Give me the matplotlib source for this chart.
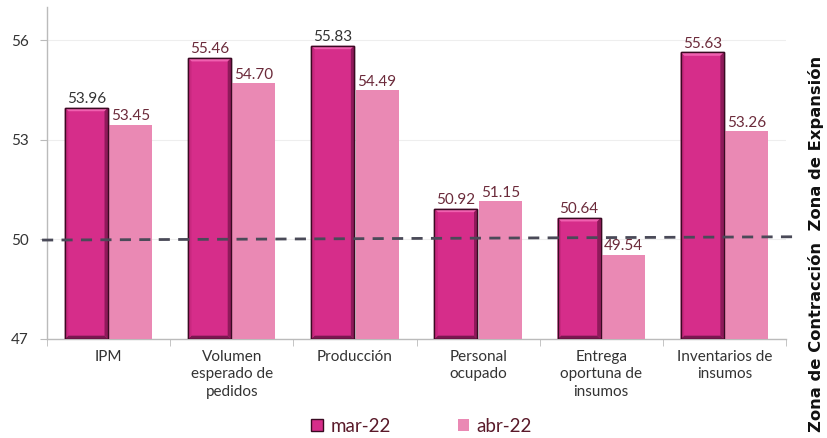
import matplotlib.pyplot as plt
import matplotlib.patches as mpatches
import numpy as np

categories = ["IPM", "Volumen\nesperado de\npedidos", "Producción", "Personal\nocupado",
              "Entrega\noportuna de\ninsumos", "Inventarios de\ninsumos"]
mar22 = [53.96, 55.46, 55.83, 50.92, 50.64, 55.63]
abr22 = [53.45, 54.70, 54.49, 51.15, 49.54, 53.26]
yticks = [47, 50, 53, 56]

plt.rcParams['font.family'] = ['Lato', 'DejaVu Sans']

c_mar = '#d62d8a'
c_mar_light = '#f060b0'
c_mar_dark = '#7a1850'
c_abr = '#ea89b4'
c_lab = '#6b2a3a'

x = np.arange(len(categories))
width = 0.35
off = 0.18

fig = plt.figure(figsize=(8.27, 4.38), dpi=100)
ax = fig.add_axes([47/827, 1-339/438, (786-47)/827, 332/438])

bars1 = ax.bar(x - off, np.array(mar22) - 47, width, bottom=47, color=c_mar,
               edgecolor='#3a0a22', linewidth=1.0, zorder=3)
bars2 = ax.bar(x + off, np.array(abr22) - 47, width, bottom=47, color=c_abr,
               linewidth=0, zorder=3)

# bevel effect on mar-22 bars
for b in bars1:
    x0, w = b.get_x(), b.get_width()
    y1 = b.get_y() + b.get_height()
    y0 = b.get_y()
    bw = w * 0.08
    bh = 0.10
    top = mpatches.Polygon([[x0, y1], [x0 + w, y1], [x0 + w - bw, y1 - bh], [x0 + bw, y1 - bh]],
                           closed=True, facecolor=c_mar_light, edgecolor='none', zorder=4)
    right = mpatches.Polygon([[x0 + w, y1], [x0 + w, y0], [x0 + w - bw, y0 + bh], [x0 + w - bw, y1 - bh]],
                             closed=True, facecolor='#8e1a5a', edgecolor='none', zorder=4)
    bottom = mpatches.Polygon([[x0, y0], [x0 + w, y0], [x0 + w - bw, y0 + bh], [x0 + bw, y0 + bh]],
                              closed=True, facecolor=c_mar_dark, edgecolor='none', zorder=4)
    left = mpatches.Polygon([[x0, y0], [x0, y1], [x0 + bw, y1 - bh], [x0 + bw, y0 + bh]],
                            closed=True, facecolor='#c8287f', edgecolor='none', zorder=4)
    for p in (top, right, bottom, left):
        ax.add_patch(p)
    ax.add_patch(mpatches.Rectangle((x0, y0), w, y1 - y0, facecolor='none',
                                    edgecolor='#3a0a22', linewidth=1.0, zorder=5))

mar_colors = ['#333333', c_lab, '#333333', c_lab, c_lab, c_lab]
for b, v, col in zip(bars1, mar22, mar_colors):
    ax.text(b.get_x() + b.get_width() / 2, v + 0.05, f'{v:.2f}', ha='center', va='bottom',
            fontsize=11, color=col, zorder=6)
for b, v in zip(bars2, abr22):
    ax.text(b.get_x() + b.get_width() / 2, v + 0.05, f'{v:.2f}', ha='center', va='bottom',
            fontsize=11, color=c_lab, zorder=6)

ax.set_xlim(-0.5, len(categories) - 0.5)
ax.set_ylim(47, 57)
ax.set_yticks(yticks)
ax.set_yticklabels([str(t) for t in yticks], fontsize=11, color='#333333')
ax.yaxis.grid(True, color='#eeeeee', linewidth=0.8, zorder=0)
ax.set_axisbelow(True)

ax.set_xticks(np.arange(len(categories) + 1) - 0.5, minor=True)
ax.set_xticks(x)
ax.set_xticklabels(categories, fontsize=11, color='#333333', linespacing=1.3)
ax.tick_params(axis='x', which='major', length=0, pad=8)
ax.tick_params(axis='x', which='minor', length=5, color='#bbbbbb')
ax.tick_params(axis='y', length=5, color='#bbbbbb', pad=8)

for s in ['top', 'right']:
    ax.spines[s].set_visible(False)
for s in ['left', 'bottom']:
    ax.spines[s].set_color('#bbbbbb')
    ax.spines[s].set_linewidth(1.0)

# threshold line at 50
ax.plot([-0.54, 5.61], [49.98, 50.08], linestyle=(0, (4, 3)), color='#4a4a58',
        linewidth=2.0, clip_on=False, zorder=7)

handles = [mpatches.Patch(facecolor=c_mar, edgecolor='#3a0a22', label='mar-22'),
           mpatches.Patch(facecolor=c_abr, edgecolor='none', label='abr-22')]
leg = fig.legend(handles=handles, loc='center', bbox_to_anchor=(0.51, 12/438),
                 ncol=2, frameon=False, fontsize=13.5, handlelength=0.6, handleheight=0.6,
                 columnspacing=3.6, handletextpad=0.4)
for t in leg.get_texts():
    t.set_color('#5a1a2a')

fig.text(816/827, 1 - 244/438, 'Zona de Contracción  Zona de Expansión', rotation=90,
         ha='center', va='center', fontsize=11.8, fontweight='bold', color='#111111',
         family='DejaVu Sans')

fig.savefig('out.png', dpi=100)
